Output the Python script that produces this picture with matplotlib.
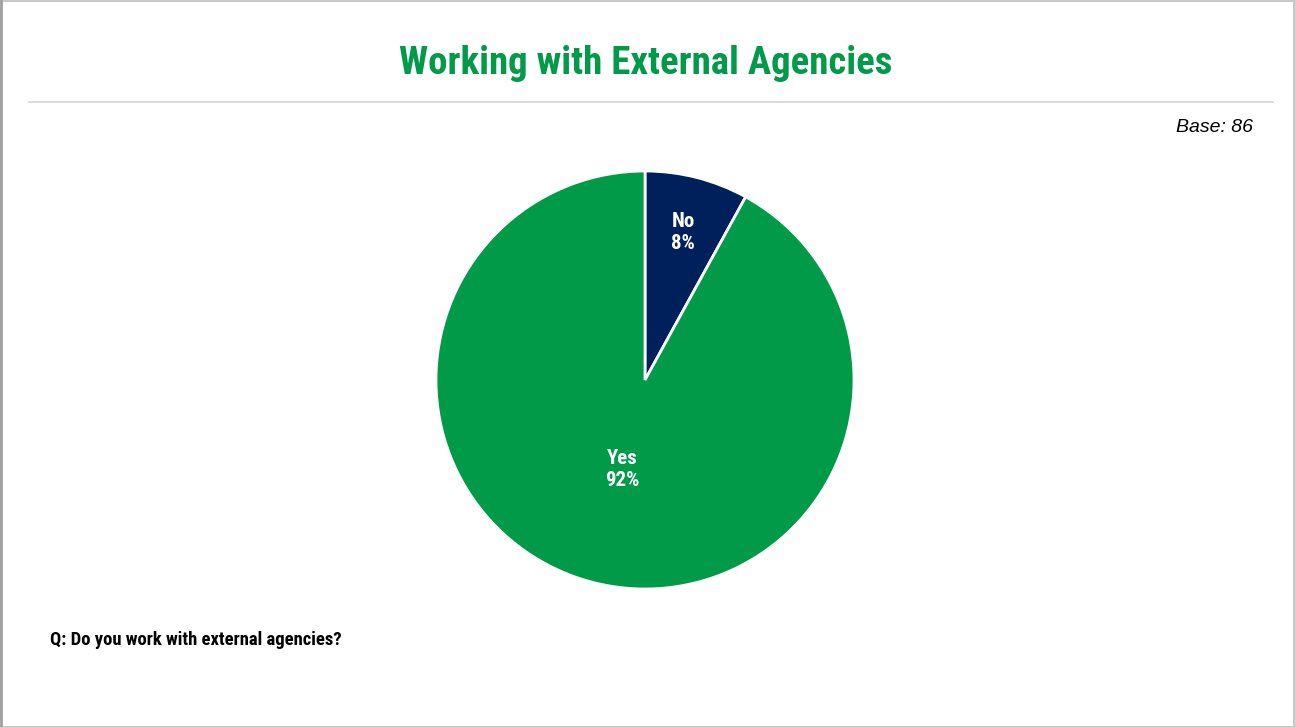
import matplotlib
matplotlib.use("Agg")
import matplotlib.pyplot as plt
from matplotlib.patches import Rectangle
from matplotlib.lines import Line2D
import numpy as np

categories = ["No", "Yes"]
values = [8, 92]
colors = ["#00205B", "#009A49"]
label_dist = [0.73, 0.44]

title = "Working with External Agencies"
base_text = "Base: 86"
question = "Q: Do you work with external agencies?"

cond = ["Roboto Condensed", "PT Sans Narrow", "DejaVu Sans"]

W, H = 1295, 727
fig = plt.figure(figsize=(W / 100, H / 100), dpi=100)
fig.patch.set_facecolor("white")

# border
fig.add_artist(Rectangle((0.0005, 0.0005), 0.999, 0.998, transform=fig.transFigure,
                         fill=False, edgecolor="#c8c8c8", linewidth=1.5))
fig.add_artist(Line2D([0.0008, 0.0008], [0, 1], transform=fig.transFigure,
                      color="#a0a0a0", linewidth=2))

fig.text(646 / W, 1 - 63 / H, title, ha="center", va="center", color="#009A49",
         fontsize=28, fontweight="bold", family=cond)
fig.add_artist(Line2D([29 / W, 1273 / W], [1 - 102 / H, 1 - 102 / H], transform=fig.transFigure,
                      color="#d4d4d4", linewidth=1.2))
fig.text(1253 / W, 1 - 127 / H, base_text, ha="right", va="center", color="black",
         fontsize=14, fontstyle="italic", family="Liberation Sans")
fig.text(50 / W, 1 - 640 / H, question, ha="left", va="center", color="black",
         fontsize=13.4, fontweight="bold", family=cond)

cx, cy, r = 645, 380, 209
ax = fig.add_axes([(cx - r) / W, (H - cy - r) / H, 2 * r / W, 2 * r / H])
wedges, _ = ax.pie(values, colors=colors, startangle=90, counterclock=False,
                   radius=1, wedgeprops=dict(edgecolor="white", linewidth=2))
ax.set_xlim(-1, 1)
ax.set_ylim(-1, 1)
ax.set_aspect("auto")
ax.axis("off")

for w, cat, v, d in zip(wedges, categories, values, label_dist):
    ang = np.deg2rad((w.theta1 + w.theta2) / 2)
    ax.text(d * np.cos(ang), d * np.sin(ang), f"{cat}\n{v}%", ha="center", va="center",
            color="white", fontsize=15, fontweight="bold", family=cond, linespacing=1.2)

fig.savefig("out.png", dpi=100, facecolor="white")
